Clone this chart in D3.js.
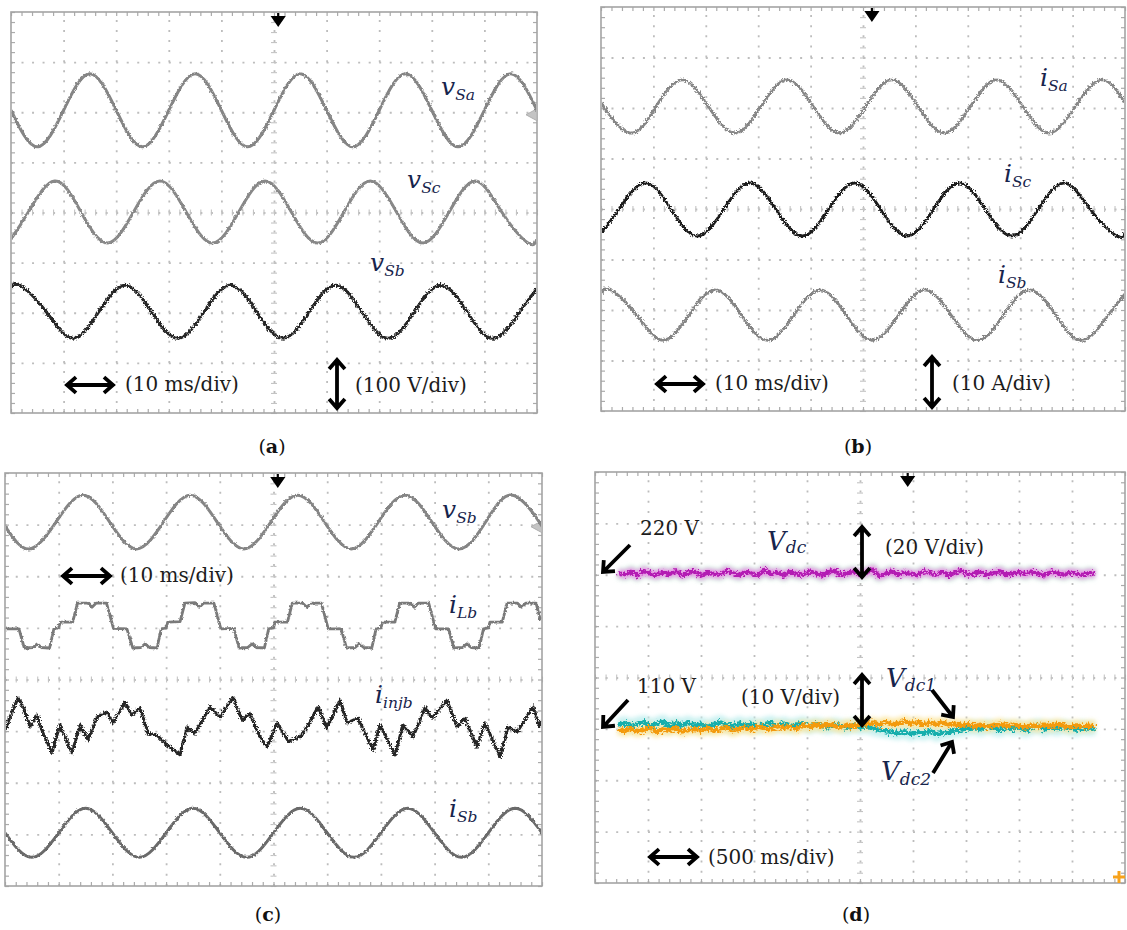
<!DOCTYPE html>
<html>
<head>
<meta charset="utf-8">
<title>Experimental waveforms</title>
<script src="https://cdnjs.cloudflare.com/ajax/libs/d3/7.8.5/d3.min.js"></script>
<style>
  html, body { margin: 0; padding: 0; background: #fff; }
  svg { display: block; }
</style>
</head>
<body>
<script>
// ===== Captured traces =====
// (a) source voltages: [time ms, volts], 100 V/div
const vSa_a = [[0,0],[5,-73],[10,0],[15,73],[20,0],[25,-73],[30,0],[35,73],[40,0],[45,-73],[50,0],[55,73],[60,0],[65,-73],[70,0],[75,73],[80,0],[85,-73],[90,0],[95,73],[100,0]];
const vSc_a = [[0,-54],[3.3,0],[8.3,62],[13.3,0],[18.3,-62],[23.3,0],[28.3,62],[33.3,0],[38.3,-62],[43.3,0],[48.3,62],[53.3,0],[58.3,-62],[63.3,0],[68.3,62],[73.3,0],[78.3,-62],[83.3,0],[88.3,62],[93.3,0],[98.3,-62],[100,-54]];
const vSb_a = [[0,46],[1.7,53],[6.7,0],[11.7,-53],[16.7,0],[21.7,53],[26.7,0],[31.7,-53],[36.7,0],[41.7,53],[46.7,0],[51.7,-53],[56.7,0],[61.7,53],[66.7,0],[71.7,-53],[76.7,0],[81.7,53],[86.7,0],[91.7,-53],[96.7,0],[100,46]];

// (b) source currents: [time ms, amperes], 10 A/div
const iSa_b = [[0,0.8],[0.5,0],[5.5,-5.25],[10.5,0],[15.5,5.25],[20.5,0],[25.5,-5.25],[30.5,0],[35.5,5.25],[40.5,0],[45.5,-5.25],[50.5,0],[55.5,5.25],[60.5,0],[65.5,-5.25],[70.5,0],[75.5,5.25],[80.5,0],[85.5,-5.25],[90.5,0],[95.5,5.25],[100,0.8]];
const iSc_b = [[0,-4.6],[3.4,0],[8.4,5.25],[13.4,0],[18.4,-5.25],[23.4,0],[28.4,5.25],[33.4,0],[38.4,-5.25],[43.4,0],[48.4,5.25],[53.4,0],[58.4,-5.25],[63.4,0],[68.4,5.25],[73.4,0],[78.4,-5.25],[83.4,0],[88.4,5.25],[93.4,0],[98.4,-5.25],[100,-4.6]];
const iSb_b = [[0,4.2],[1.8,5],[6.8,0],[11.8,-5],[16.8,0],[21.8,5],[26.8,0],[31.8,-5],[36.8,0],[41.8,5],[46.8,0],[51.8,-5],[56.8,0],[61.8,5],[66.8,0],[71.8,-5],[76.8,0],[81.8,5],[86.8,0],[91.8,-5],[96.8,0],[100,4.2]];

// (c) phase-b quantities: [time ms, divisions]
const vSb_c = [[0,-0.08],[4.5,-0.52],[9.5,0],[14.5,0.52],[19.5,0],[24.5,-0.52],[29.5,0],[34.5,0.52],[39.5,0],[44.5,-0.52],[49.5,0],[54.5,0.52],[59.5,0],[64.5,-0.52],[69.5,0],[74.5,0.52],[79.5,0],[84.5,-0.52],[89.5,0],[94.5,0.52],[99.5,0],[100,-0.08]];
const iLb_c = [[0,-0.03],
  [0.2,-0.07],[2.6,-0.07],[3.6,-0.44],[5.2,-0.43],[6.0,-0.36],[6.8,-0.43],[8.3,-0.44],[9.1,-0.07],[10.0,-0.05],[10.3,0.06],[12.6,0.06],[13.5,0.43],[15.4,0.43],[16.2,0.35],[17.0,0.43],[18.9,0.43],
  [20.2,-0.06],[22.7,-0.07],[23.8,-0.44],[25.3,-0.43],[26.1,-0.36],[26.9,-0.43],[28.3,-0.44],[29.1,-0.07],[30.0,-0.05],[30.3,0.06],[32.6,0.07],[33.5,0.43],[35.4,0.44],[36.2,0.35],[37.0,0.43],[38.9,0.43],
  [40.2,-0.07],[42.6,-0.06],[43.6,-0.44],[45.2,-0.43],[46.0,-0.36],[46.8,-0.43],[48.3,-0.44],[49.1,-0.07],[50.0,-0.05],[50.3,0.06],[52.6,0.06],[53.5,0.43],[55.4,0.43],[56.2,0.35],[57.0,0.43],[58.9,0.43],
  [60.2,-0.07],[62.6,-0.07],[63.6,-0.44],[65.2,-0.43],[66.0,-0.36],[66.8,-0.43],[68.3,-0.44],[69.1,-0.07],[70.0,-0.05],[70.3,0.06],[72.6,0.06],[73.5,0.43],[75.4,0.43],[76.2,0.35],[77.0,0.43],[78.9,0.43],
  [80.2,-0.07],[82.6,-0.07],[83.6,-0.44],[85.2,-0.43],[86.0,-0.36],[86.8,-0.43],[88.3,-0.44],[89.1,-0.07],[90.0,-0.05],[90.3,0.06],[92.6,0.06],[93.5,0.43],[95.4,0.43],[96.2,0.35],[97.0,0.43],[98.9,0.43],[99.7,0.1]];
const iinjb_c = [[0,-0.08],[0.93,0.17],[2.42,0.54],[3.35,0.37],[4.66,-0.02],[5.96,0.21],[7.08,-0.14],[8.75,-0.51],[10.24,0.02],[11.55,-0.31],[12.48,-0.52],[13.97,0.02],[15.46,-0.27],[17.13,0.17],[18.99,0.27],[20.11,0.06],[22.35,0.46],[23.65,0.21],[25.14,0.35],[26.63,-0.14],[28.31,-0.18],[30.17,-0.37],[32.59,-0.56],[33.89,-0.02],[35.38,-0.14],[38.18,0.37],[40.04,0.17],[42.46,0.56],[44.13,0.11],[45.62,0.24],[47.49,-0.21],[48.79,-0.41],[50.65,0.06],[52.8,-0.3],[54.93,-0.21],[56.24,-0.02],[58.29,0.37],[59.96,-0.04],[62.38,0.5],[63.69,0.06],[65.74,0.15],[68.53,-0.47],[69.83,0.02],[72.63,-0.56],[74.12,0.02],[75.98,-0.21],[78.21,0.35],[79.52,0.15],[82.31,0.5],[84.17,-0.02],[85.66,0.15],[87.9,-0.41],[89.39,0.06],[92.18,-0.6],[93.67,-0.02],[95.34,-0.12],[98.32,0.37],[99.63,-0.02]];
const iSb_c = [[0,0],[5,-0.475],[10,0],[15,0.475],[20,0],[25,-0.475],[30,0],[35,0.475],[40,0],[45,-0.475],[50,0],[55,0.475],[60,0],[65,-0.475],[70,0],[75,0.475],[80,0],[85,-0.475],[90,0],[95,0.475],[100,0]];

// (d) dc-link voltages in volts, one sample every 60 ms from 0.22 s
const dcT0 = 0.22, dcDt = 0.06;
const vdc = [220.3,219.6,220.8,219.3,221.1,220.1,219.5,220.6,219.8,221.0,219.4,220.3,220.9,219.2,220.4,220.0,219.6,221.2,220.2,219.4,220.7,220.1,219.5,221.5,219.8,220.6,219.3,220.8,220.0,219.6,220.9,220.3,219.2,220.7,221.2,219.5,220.2,220.8,219.8,220.5,221.7,219.1,220.1,220.9,219.6,220.4,220.0,219.4,221.0,220.2,219.8,220.7,219.3,220.5,221.2,219.6,220.1,220.8,219.5,220.3,221.0,219.4,220.2,220.6,219.8,220.9,220.0,219.3,220.8,220.2,219.6,220.5,220.1,219.5,220.3,220.0];
const vdc2 = [110.4,110.7,110.1,110.6,110.9,110.2,110.5,111.0,110.1,110.7,110.3,110.8,110.2,110.6,110.0,110.5,110.9,110.3,110.1,110.7,110.2,110.6,110.0,110.5,110.8,110.2,110.6,110.1,110.4,110.7,110.0,110.5,110.2,109.9,110.4,110.1,109.8,110.3,109.9,110.1,109.7,109.4,109.2,109.0,108.8,109.1,108.6,109.0,108.7,109.2,108.5,108.9,109.0,109.3,109.5,109.7,109.9,109.5,110.1,109.7,109.4,110.0,109.6,109.9,109.3,109.8,110.2,109.5,109.9,109.6,110.0,109.7,109.4,109.9,109.6,109.8];
const vdc1 = [109.5,109.2,109.7,109.1,109.4,109.8,109.0,109.5,109.3,109.9,109.1,109.4,109.6,109.2,109.8,109.3,109.5,110.0,109.2,109.6,109.9,109.4,110.1,109.7,109.5,110.2,109.8,110.0,109.6,110.3,110.0,110.4,110.1,110.5,110.2,109.9,110.4,110.1,110.6,110.3,110.8,110.4,110.9,110.5,110.7,111.1,110.6,110.9,110.4,110.8,110.5,110.9,110.3,110.6,110.2,110.5,110.1,110.4,110.0,110.3,110.6,110.1,110.4,110.2,109.9,110.3,110.0,110.4,110.1,110.5,110.2,109.9,110.3,110.0,110.2,110.1];

// Annotation texts
const timeLabels = ["(10 ms/div)", "(10 ms/div)", "(10 ms/div)", "(500 ms/div)"];
const ampLabels = ["(100 V/div)", "(10 A/div)", "(20 V/div)", "(10 V/div)"];
const levelLabels = ["220 V", "110 V"];
const captions = ["a", "b", "c", "d"];

// ===== Drawing =====
const W = 1127, H = 930;
const svg = d3.select("body").append("svg").attr("width", W).attr("height", H)
  .style("background", "#fff");
const defs = svg.append("defs");

// displacement filters give traces the grain of a scope capture
function makeRough(id, freq, scale, blur, seed) {
  const f = defs.append("filter").attr("id", id).attr("filterUnits", "userSpaceOnUse")
    .attr("x", 0).attr("y", 0).attr("width", W).attr("height", H);
  f.append("feTurbulence").attr("type", "fractalNoise").attr("baseFrequency", freq)
    .attr("numOctaves", 2).attr("seed", seed).attr("result", "n");
  f.append("feDisplacementMap").attr("in", "SourceGraphic").attr("in2", "n").attr("scale", scale)
    .attr("xChannelSelector", "R").attr("yChannelSelector", "G").attr("result", "d");
  f.append("feGaussianBlur").attr("in", "d").attr("stdDeviation", blur);
}
makeRough("fine", 0.45, 3, 0.4, 3);
makeRough("noisy", 0.6, 5, 0.45, 5);
makeRough("dcnoise", 0.5, 9, 0.35, 9);
const halo = defs.append("filter").attr("id", "halo").attr("filterUnits", "userSpaceOnUse")
  .attr("x", 0).attr("y", 0).attr("width", W).attr("height", H);
halo.append("feGaussianBlur").attr("stdDeviation", 2.2);

const screens = {
  a: { x: 11, y: 12, w: 526, h: 401, tdiv: 10, trig: 50.8, gnd: 1.95 },
  b: { x: 601, y: 7, w: 524, h: 404, tdiv: 10, trig: 51.7, gnd: null },
  c: { x: 5, y: 473, w: 537, h: 413, tdiv: 10, trig: 50.8, gnd: 2.96 },
  d: { x: 595, y: 472, w: 530, h: 411, tdiv: 0.5, trig: 2.95, gnd: null }
};

function styleTicks(sel, color, width) {
  sel.select(".domain").remove();
  sel.selectAll("text").remove();
  sel.selectAll("line").attr("stroke", color).attr("stroke-width", width);
}

function drawScreen(key) {
  const s = screens[key];
  const g = svg.append("g");
  s.xs = d3.scaleLinear([0, 10 * s.tdiv], [s.x, s.x + s.w]);
  s.ys = d3.scaleLinear([-4, 4], [s.y + s.h, s.y]);
  const minorX = s.w / 50, minorY = s.h / 40;
  const majorT = d3.range(1, 10).map(i => i * s.tdiv);
  const majorV = d3.range(-3, 4);
  const minorT = d3.range(0, 51).map(i => i * s.tdiv / 5);
  const minorV = d3.range(-20, 21).map(i => i / 5);

  // dotted graticule
  g.append("g").attr("transform", `translate(0,${s.y + s.h})`)
    .call(d3.axisBottom(s.xs).tickValues(majorT).tickSize(-s.h).tickFormat(""))
    .call(a => styleTicks(a, "#bdbdbd", 1.8))
    .selectAll("line").attr("stroke-dasharray", `2 ${minorY - 2}`);
  g.append("g").attr("transform", `translate(${s.x},0)`)
    .call(d3.axisLeft(s.ys).tickValues(majorV).tickSize(-s.w).tickFormat(""))
    .call(a => styleTicks(a, "#bdbdbd", 1.8))
    .selectAll("line").attr("stroke-dasharray", `2 ${minorX - 2}`);

  // minor ticks on the frame and on the centre axes
  const tc = "#ababab";
  g.append("g").attr("transform", `translate(0,${s.y + s.h})`)
    .call(d3.axisTop(s.xs).tickValues(minorT).tickSize(4).tickFormat("")).call(a => styleTicks(a, tc, 1.2));
  g.append("g").attr("transform", `translate(0,${s.y})`)
    .call(d3.axisBottom(s.xs).tickValues(minorT).tickSize(4).tickFormat("")).call(a => styleTicks(a, tc, 1.2));
  g.append("g").attr("transform", `translate(${s.x},0)`)
    .call(d3.axisRight(s.ys).tickValues(minorV).tickSize(4).tickFormat("")).call(a => styleTicks(a, tc, 1.2));
  g.append("g").attr("transform", `translate(${s.x + s.w},0)`)
    .call(d3.axisLeft(s.ys).tickValues(minorV).tickSize(4).tickFormat("")).call(a => styleTicks(a, tc, 1.2));
  const cy = s.ys(0), cx = s.xs(5 * s.tdiv);
  g.append("g").attr("transform", `translate(0,${cy})`)
    .call(d3.axisTop(s.xs).tickValues(minorT).tickSize(3).tickFormat("")).call(a => styleTicks(a, "#c4c4c4", 1.1));
  g.append("g").attr("transform", `translate(0,${cy})`)
    .call(d3.axisBottom(s.xs).tickValues(minorT).tickSize(3).tickFormat("")).call(a => styleTicks(a, "#c4c4c4", 1.1));
  g.append("g").attr("transform", `translate(${cx},0)`)
    .call(d3.axisLeft(s.ys).tickValues(minorV).tickSize(3).tickFormat("")).call(a => styleTicks(a, "#c4c4c4", 1.1));
  g.append("g").attr("transform", `translate(${cx},0)`)
    .call(d3.axisRight(s.ys).tickValues(minorV).tickSize(3).tickFormat("")).call(a => styleTicks(a, "#c4c4c4", 1.1));

  // frame
  g.append("rect").attr("x", s.x).attr("y", s.y).attr("width", s.w).attr("height", s.h)
    .attr("fill", "none").attr("stroke", "#a4a4a4").attr("stroke-width", 1.6);

  // trigger position marker
  const tx = s.xs(s.trig);
  g.append("path")
    .attr("d", `M${tx},${s.y + 1}V${s.y + 6}M${tx - 5.5},${s.y + 5}L${tx + 5.5},${s.y + 5}L${tx},${s.y + 13}Z`)
    .attr("fill", "#000").attr("stroke", "#000").attr("stroke-width", 2.2);

  // channel ground marker on the right edge
  if (s.gnd !== null) {
    const gy = s.ys(s.gnd), rx = s.x + s.w;
    g.append("path").attr("d", `M${rx},${gy - 6}L${rx - 11},${gy}L${rx},${gy + 6}Z`)
      .attr("fill", "#c4c4c4").attr("stroke", "#b0b0b0").attr("stroke-width", 1);
  }

  const clip = defs.append("clipPath").attr("id", "clip-" + key);
  clip.append("rect").attr("x", s.x + 1).attr("y", s.y + 1).attr("width", s.w - 2).attr("height", s.h - 2);
  s.traces = svg.append("g").attr("clip-path", `url(#clip-${key})`);
  return s;
}

function drawTrace(key, data, ch) {
  const s = screens[key];
  const ref = ch.ref || 0;
  const line = d3.line()
    .x(d => s.xs(d[0]))
    .y(d => s.ys(ch.pos + (d[1] - ref) / ch.scale))
    .curve(ch.curve || d3.curveNatural);
  s.traces.append("path").datum(data).attr("d", line)
    .attr("fill", "none").attr("stroke", ch.color).attr("stroke-width", ch.width)
    .attr("stroke-linejoin", "round").attr("stroke-opacity", ch.opacity || 1)
    .attr("filter", `url(#${ch.filter})`);
}

["a", "b", "c", "d"].forEach(drawScreen);

// (a)
drawTrace("a", vSa_a, { pos: 2.04, scale: 100, color: "#858585", width: 3, filter: "fine" });
drawTrace("a", vSc_a, { pos: 0.01, scale: 100, color: "#888", width: 3, filter: "fine" });
drawTrace("a", vSb_a, { pos: -1.98, scale: 100, color: "#262626", width: 3, filter: "noisy" });
// (b)
drawTrace("b", iSa_b, { pos: 2.03, scale: 10, color: "#878787", width: 2.8, filter: "noisy" });
drawTrace("b", iSc_b, { pos: -0.01, scale: 10, color: "#1e1e1e", width: 2.8, filter: "noisy" });
drawTrace("b", iSb_b, { pos: -2.1, scale: 10, color: "#858585", width: 2.8, filter: "noisy" });
// (c)
drawTrace("c", vSb_c, { pos: 3.05, scale: 1, color: "#858585", width: 3, filter: "fine" });
drawTrace("c", iLb_c, { pos: 1.05, scale: 1, color: "#7a7a7a", width: 2.8, filter: "fine", curve: d3.curveLinear });
drawTrace("c", iinjb_c, { pos: -0.9, scale: 1, color: "#252525", width: 3, filter: "noisy", curve: d3.curveLinear });
drawTrace("c", iSb_c, { pos: -2.97, scale: 1, color: "#6a6a6a", width: 3, filter: "fine" });
// (d)
const dcSeries = arr => arr.map((v, i) => [dcT0 + i * dcDt, v]);
drawTrace("d", dcSeries(vdc), { pos: 2.02, ref: 220, scale: 20, color: "#c4f2d6", width: 12, filter: "halo", curve: d3.curveLinear, opacity: 0.8 });
drawTrace("d", dcSeries(vdc), { pos: 2.02, ref: 220, scale: 20, color: "#ea8fe6", width: 8, filter: "halo", curve: d3.curveLinear });
drawTrace("d", dcSeries(vdc), { pos: 2.02, ref: 220, scale: 20, color: "#b31ab3", width: 4, filter: "dcnoise", curve: d3.curveLinear });
drawTrace("d", dcSeries(vdc2), { pos: -0.96, ref: 110, scale: 10, color: "#c4f0f0", width: 14, filter: "halo", curve: d3.curveLinear, opacity: 0.9 });
drawTrace("d", dcSeries(vdc1), { pos: -0.96, ref: 110, scale: 10, color: "#fbe6a0", width: 11, filter: "halo", curve: d3.curveLinear, opacity: 0.9 });
drawTrace("d", dcSeries(vdc2), { pos: -0.96, ref: 110, scale: 10, color: "#17aeac", width: 4.5, filter: "dcnoise", curve: d3.curveLinear });
drawTrace("d", dcSeries(vdc1), { pos: -0.96, ref: 110, scale: 10, color: "#f39a10", width: 4.5, filter: "dcnoise", curve: d3.curveLinear });

// orange channel marker, lower right of (d)
{
  const s = screens.d, mx = s.x + s.w - 6, my = s.y + s.h - 6;
  svg.append("path").attr("d", `M${mx - 6},${my}H${mx + 6}M${mx},${my - 6}V${my + 6}`)
    .attr("stroke", "#f7a21b").attr("stroke-width", 3);
}

// ===== Annotations =====
const textFont = "'DejaVu Serif', serif";
const labelColor = "#17244c";

function arrow(x1, y1, x2, y2, both) {
  const a = Math.atan2(y2 - y1, x2 - x1), L = 12, sp = 0.72;
  const head = (x, y, ang) =>
    `M${x + L * Math.cos(ang + Math.PI - sp)},${y + L * Math.sin(ang + Math.PI - sp)}L${x},${y}` +
    `L${x + L * Math.cos(ang + Math.PI + sp)},${y + L * Math.sin(ang + Math.PI + sp)}`;
  let d = `M${x1},${y1}L${x2},${y2}` + head(x2, y2, a);
  if (both) d += head(x1, y1, a + Math.PI);
  svg.append("path").attr("d", d).attr("fill", "none").attr("stroke", "#000")
    .attr("stroke-width", 3.8).attr("stroke-linejoin", "miter");
}

function plainText(x, y, str, size) {
  svg.append("text").attr("x", x).attr("y", y).attr("font-family", textFont)
    .attr("font-size", size || 20).attr("fill", "#1c1c1c").text(str);
}

function mathLabel(x, y, main, sub, mainSize, subSize, subDy) {
  const t = svg.append("text").attr("x", x).attr("y", y).attr("font-family", textFont)
    .attr("font-style", "italic").attr("fill", labelColor);
  t.append("tspan").attr("font-size", mainSize || 25).text(main);
  t.append("tspan").attr("font-size", subSize || 15.5).attr("dy", subDy || 5).text(sub);
}

// (a)
mathLabel(441, 95, "v", "Sa");
mathLabel(407, 188, "v", "Sc");
mathLabel(370, 271, "v", "Sb");
arrow(67, 385, 113, 385, true);
plainText(125, 391, timeLabels[0]);
arrow(337, 360, 337, 408, true);
plainText(355, 392, ampLabels[0]);

// (b)
mathLabel(1040, 86, "i", "Sa");
mathLabel(1004, 182, "i", "Sc");
mathLabel(998, 283, "i", "Sb");
arrow(657, 384, 703, 384, true);
plainText(715, 390, timeLabels[1]);
arrow(932, 357, 932, 407, true);
plainText(952, 390, ampLabels[1]);

// (c)
mathLabel(442, 518, "v", "Sb");
mathLabel(449, 613, "i", "Lb");
mathLabel(375, 703, "i", "injb");
mathLabel(449, 817, "i", "Sb");
arrow(63, 576, 110, 576, true);
plainText(120, 582, timeLabels[2]);

// (d)
plainText(640, 535, levelLabels[0]);
arrow(630, 545, 603, 572, false);
mathLabel(767, 550, "V", "dc", 26, 17, 3);
arrow(862, 527, 862, 577, true);
plainText(885, 554, ampLabels[2]);
plainText(637, 693, levelLabels[1]);
arrow(628, 700, 603, 727, false);
plainText(741, 704, ampLabels[3]);
arrow(862, 675, 862, 725, true);
mathLabel(886, 687, "V", "dc1", 26, 17, 4);
arrow(932, 690, 953, 717, false);
mathLabel(881, 780, "V", "dc2", 26, 17, 5);
arrow(933, 773, 952, 742, false);
arrow(650, 857, 697, 857, true);
plainText(708, 864, timeLabels[3]);

// captions
const capPos = [[272, 453], [858, 453], [268, 921], [856, 921]];
captions.forEach((c, i) => {
  const t = svg.append("text").attr("x", capPos[i][0]).attr("y", capPos[i][1])
    .attr("text-anchor", "middle").attr("font-family", textFont).attr("font-size", 19).attr("fill", "#111");
  t.append("tspan").text("(");
  t.append("tspan").attr("font-weight", "bold").text(c);
  t.append("tspan").text(")");
});
</script>
</body>
</html>
